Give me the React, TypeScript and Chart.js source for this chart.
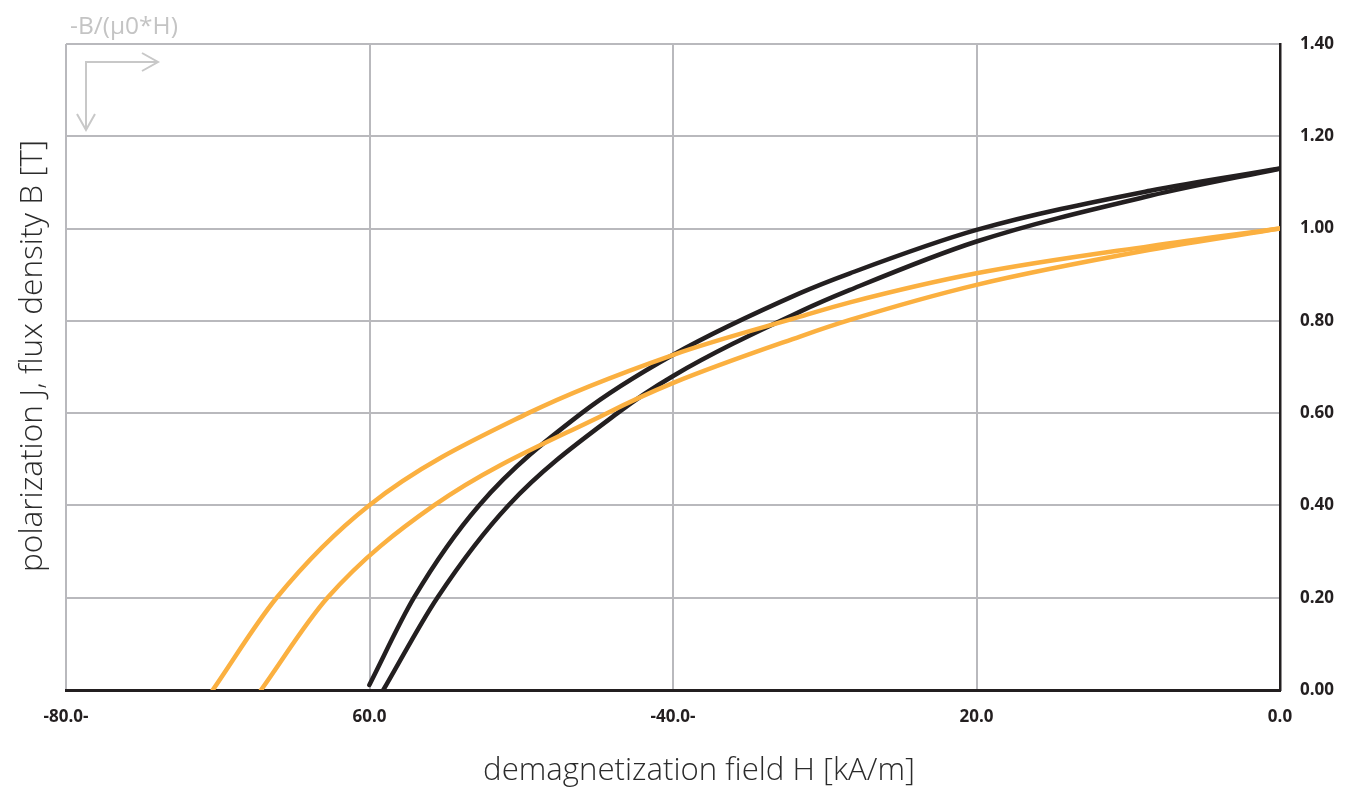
import React, { useEffect, useRef } from "react";
import { Chart, registerables } from "chart.js";

Chart.register(...registerables);

// Demagnetization field H [kA/m]
const xTickValues = [-80, -60, -40, -20, 0];
const xTickLabels = ["-80.0-", "60.0", "-40.0-", "20.0", "0.0"];
const yTickValues = [0, 0.2, 0.4, 0.6, 0.8, 1.0, 1.2, 1.4];

// Orange curve A (outer)
const orangeAH = [-70.33, -66.12, -60.03, -49.54, -40.02, -31.63, -28.34, -20.0, -8.57, 0];
const orangeAB = [0.0, 0.2, 0.4, 0.6, 0.726, 0.809, 0.84, 0.903, 0.962, 1.0];

// Orange curve B (inner)
const orangeBH = [-67.15, -62.77, -55.75, -44.35, -40.02, -31.63, -28.34, -20.0, -8.57, 0];
const orangeBB = [0.0, 0.2, 0.4, 0.6, 0.665, 0.766, 0.802, 0.878, 0.954, 1.0];

// Black curve A (outer)
const blackAH = [-60.01, -57.07, -52.78, -46.02, -40.02, -31.63, -28.34, -20.0, -8.57, 0];
const blackAB = [0.011, 0.2, 0.4, 0.6, 0.726, 0.86, 0.903, 0.997, 1.082, 1.13];

// Black curve B (inner)
const blackBH = [-59.09, -55.53, -50.85, -43.66, -40.02, -31.63, -28.34, -20.0, -8.57, 0];
const blackBB = [0.0, 0.2, 0.4, 0.6, 0.68, 0.82, 0.867, 0.972, 1.071, 1.13];

const ORANGE = "#fbb040";
const BLACK = "#231f20";
const GRID = "#b9b9bd";
const FONT = "'Open Sans', 'Noto Sans', sans-serif";

const pts = (hs: number[], bs: number[]) => hs.map((h, i) => ({ x: h, y: bs[i] }));

function fitFont(ctx: CanvasRenderingContext2D, text: string, weight: string, target: number) {
  ctx.font = `${weight} 20px ${FONT}`;
  const w = ctx.measureText(text).width;
  const size = (20 * target) / w;
  ctx.font = `${weight} ${size.toFixed(2)}px ${FONT}`;
}

const decorPlugin = {
  id: "decor",
  afterDraw(chart: any) {
    const { ctx, chartArea } = chart;
    ctx.save();
    // axis titles
    ctx.fillStyle = "#2b2b2b";
    ctx.textAlign = "center";
    ctx.textBaseline = "middle";
    const xt = "demagnetization field H [kA/m]";
    fitFont(ctx, xt, "300", 432);
    ctx.fillText(xt, (chartArea.left + chartArea.right) / 2 + 26, 771);
    const yt = "polarization J, flux density B [T]";
    fitFont(ctx, yt, "300", 432);
    ctx.save();
    ctx.translate(33, 356);
    ctx.rotate(-Math.PI / 2);
    ctx.fillText(yt, 0, 0);
    ctx.restore();
    // top-left hint
    ctx.fillStyle = "#c4c4c4";
    const ht = "-B/(\u03bc0*H)";
    fitFont(ctx, ht, "400", 108);
    ctx.textAlign = "left";
    ctx.fillText(ht, chartArea.left + 4, 27);
    ctx.strokeStyle = "#c8c8c8";
    ctx.lineWidth = 2;
    const ox = chartArea.left + 20;
    const oy = chartArea.top + 18;
    ctx.beginPath();
    ctx.moveTo(ox, oy + 68);
    ctx.lineTo(ox, oy);
    ctx.lineTo(ox + 72, oy);
    ctx.stroke();
    ctx.beginPath();
    ctx.moveTo(ox + 56, oy - 9);
    ctx.lineTo(ox + 72, oy);
    ctx.lineTo(ox + 56, oy + 9);
    ctx.stroke();
    ctx.beginPath();
    ctx.moveTo(ox - 9, oy + 52);
    ctx.lineTo(ox, oy + 68);
    ctx.lineTo(ox + 9, oy + 52);
    ctx.stroke();
    ctx.restore();
  },
};

export default function App() {
  const ref = useRef<HTMLCanvasElement | null>(null);

  useEffect(() => {
    if (!ref.current) return;
    const common = {
      pointRadius: 0,
      borderWidth: 4.5,
      cubicInterpolationMode: "monotone" as const,
      borderCapStyle: "round" as const,
      borderJoinStyle: "round" as const,
      fill: false,
    };
    const chart = new Chart(ref.current, {
      type: "line",
      data: {
        datasets: [
          { ...common, label: "orange A", data: pts(orangeAH, orangeAB), borderColor: ORANGE, order: 1 },
          { ...common, label: "orange B", data: pts(orangeBH, orangeBB), borderColor: ORANGE, order: 2 },
          { ...common, label: "black A", data: pts(blackAH, blackAB), borderColor: BLACK, order: 3 },
          { ...common, label: "black B", data: pts(blackBH, blackBB), borderColor: BLACK, order: 4 },
        ],
      },
      options: {
        animation: false,
        responsive: true,
        maintainAspectRatio: false,
        layout: { padding: { left: 66, top: 44, right: 0, bottom: 0 } },
        plugins: { legend: { display: false }, tooltip: { enabled: false } },
        scales: {
          x: {
            type: "linear",
            min: -80,
            max: 0,
            afterFit: (s: any) => {
              s.height = 99;
            },
            afterBuildTicks: (s: any) => {
              s.ticks = xTickValues.map((v) => ({ value: v }));
            },
            ticks: {
              padding: 17,
              color: BLACK,
              font: { family: FONT, size: 17, weight: "bold" },
              callback: (v: any) => {
                const i = xTickValues.indexOf(Number(v));
                return i >= 0 ? xTickLabels[i] : "";
              },
            },
            grid: { color: GRID, lineWidth: 2, drawTicks: false },
            border: { color: BLACK, width: 3 },
          },
          y: {
            type: "linear",
            position: "right",
            min: 0,
            max: 1.4,
            afterFit: (s: any) => {
              s.width = 66;
            },
            afterBuildTicks: (s: any) => {
              s.ticks = yTickValues.map((v) => ({ value: v }));
            },
            ticks: {
              padding: 20,
              color: BLACK,
              font: { family: FONT, size: 17, weight: "bold" },
              callback: (v: any) => Number(v).toFixed(2),
            },
            grid: { color: GRID, lineWidth: 2, drawTicks: false },
            border: { color: BLACK, width: 2.5 },
          },
        },
      },
      plugins: [decorPlugin],
    });
    return () => chart.destroy();
  }, []);

  return (
    <div style={{ position: "fixed", left: 0, top: 0, width: "100vw", height: "100vh", background: "#fff" }}>
      <canvas ref={ref} />
    </div>
  );
}
